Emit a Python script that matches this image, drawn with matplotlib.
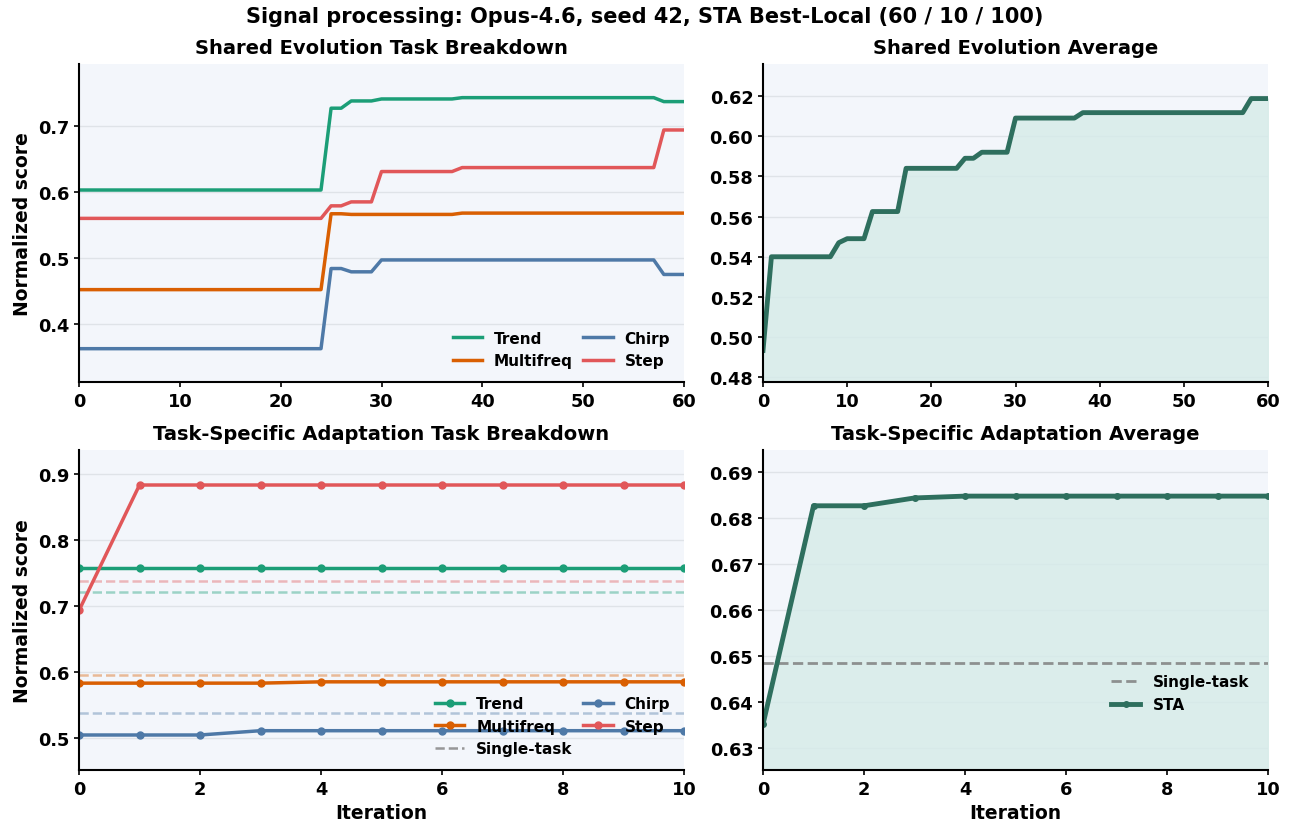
import numpy as np
import matplotlib.pyplot as plt

plt.rcParams['font.family'] = 'DejaVu Sans'
plt.rcParams['font.weight'] = 'bold'
plt.rcParams['axes.labelweight'] = 'bold'
plt.rcParams['axes.titleweight'] = 'bold'

# couleurs
c_trend = '#1b9e77'
c_multi = '#d95f02'
c_chirp = '#4e79a7'
c_step = '#e15759'
c_avg = '#2e6f5e'
bg = '#f3f6fb'

# --- evolution partagee (60 iterations) ---
shared_x = np.arange(61)
trend_shared = [0.603]*25 + [0.727]*2 + [0.738]*3 + [0.741]*8 + [0.743]*20 + [0.737]*3
multi_shared = [0.452]*25 + [0.567]*2 + [0.566]*11 + [0.568]*23
chirp_shared = [0.3625]*25 + [0.484]*2 + [0.479]*3 + [0.497]*28 + [0.475]*3
step_shared = [0.560]*25 + [0.579]*2 + [0.585]*3 + [0.631]*8 + [0.637]*20 + [0.694]*3
avg_shared = ([0.4934] + [0.540]*8 + [0.547] + [0.549]*3 + [0.5625]*4 + [0.584]*7
              + [0.589]*2 + [0.592]*4 + [0.609]*8 + [0.6117]*20 + [0.6187]*3)

# --- adaptation specifique (10 iterations) ---
sta_x = np.arange(11)
trend_sta = [0.758]*11
multi_sta = [0.583]*4 + [0.585]*7
chirp_sta = [0.5045]*3 + [0.511]*8
step_sta = [0.693] + [0.883]*10
avg_sta = [0.6352, 0.6826, 0.6826, 0.6843] + [0.6847]*7

single = {'Trend': 0.721, 'Multifreq': 0.596, 'Chirp': 0.538, 'Step': 0.737}
single_avg = 0.6486

names = ['Trend', 'Multifreq', 'Chirp', 'Step']
colors = [c_trend, c_multi, c_chirp, c_step]

fig = plt.figure(figsize=(12.9, 8.29), dpi=100)
W, H = 1290, 829
def box(x0, y0, x1, y1):
    return [x0/W, 1 - y1/H, (x1-x0)/W, (y1-y0)/H]

ax1 = fig.add_axes(box(79, 65, 684, 383))
ax2 = fig.add_axes(box(763, 65, 1268, 383))
ax3 = fig.add_axes(box(79, 451, 684, 771))
ax4 = fig.add_axes(box(763, 451, 1268, 771))

for ax in (ax1, ax2, ax3, ax4):
    ax.set_facecolor(bg)
    ax.spines['top'].set_visible(False)
    ax.spines['right'].set_visible(False)
    ax.spines['left'].set_linewidth(1.5)
    ax.spines['bottom'].set_linewidth(1.5)
    ax.grid(axis='y', color='#dfe3e8', linewidth=1)
    ax.set_axisbelow(True)
    ax.tick_params(labelsize=12.8, width=1.2)

leg_kw = dict(frameon=False, fontsize=11, columnspacing=0.7, handlelength=1.9)

# haut gauche
for n, c, ys in zip(names, colors, [trend_shared, multi_shared, chirp_shared, step_shared]):
    ax1.plot(shared_x, ys, color=c, lw=2.5, label=n)
ax1.set_xlim(0, 60)
ax1.set_ylim(0.312, 0.794)
ax1.set_yticks([0.4, 0.5, 0.6, 0.7])
ax1.set_ylabel('Normalized score', fontsize=13.5)
ax1.set_title('Shared Evolution Task Breakdown', fontsize=14, pad=8)
ax1.legend(loc='lower right', ncol=2, **leg_kw)

# haut droite
ax2.plot(shared_x, avg_shared, color=c_avg, lw=3.5)
ax2.fill_between(shared_x, avg_shared, 0.4, color='#d5ebe8', alpha=0.8)
ax2.set_xlim(0, 60)
ax2.set_ylim(0.4777, 0.6359)
ax2.set_yticks(np.arange(0.48, 0.621, 0.02))
ax2.set_title('Shared Evolution Average', fontsize=14, pad=8)

# bas gauche
for n, c in zip(names, colors):
    ax3.axhline(single[n], color=c, ls='--', lw=1.8, alpha=0.4)
hands = {}
for n, c, ys in zip(names, colors, [trend_sta, multi_sta, chirp_sta, step_sta]):
    hands[n], = ax3.plot(sta_x, ys, color=c, lw=2.5, marker='o', ms=5, label=n)
st, = ax3.plot([], [], color='gray', ls='--', lw=1.8, alpha=0.8, label='Single-task')
ax3.set_xlim(0, 10)
ax3.set_ylim(0.4515, 0.936)
ax3.set_yticks([0.5, 0.6, 0.7, 0.8, 0.9])
ax3.set_ylabel('Normalized score', fontsize=13.5)
ax3.set_xlabel('Iteration', fontsize=13.5)
ax3.set_title('Task-Specific Adaptation Task Breakdown', fontsize=14, pad=8)
ax3.legend([hands['Trend'], hands['Multifreq'], st, hands['Chirp'], hands['Step']],
           ['Trend', 'Multifreq', 'Single-task', 'Chirp', 'Step'],
           loc='lower right', ncol=2, **leg_kw)

# bas droite
ax4.axhline(single_avg, color='gray', ls='--', lw=2, alpha=0.85, label='Single-task')
ax4.plot(sta_x, avg_sta, color=c_avg, lw=3.5, marker='o', ms=4, label='STA')
ax4.fill_between(sta_x, avg_sta, 0.6, color='#d5ebe8', alpha=0.8)
ax4.set_xlim(0, 10)
ax4.set_ylim(0.6253, 0.6947)
ax4.set_yticks(np.arange(0.63, 0.691, 0.01))
ax4.set_xlabel('Iteration', fontsize=13.5)
ax4.set_title('Task-Specific Adaptation Average', fontsize=14, pad=8)
ax4.legend(loc='center right', bbox_to_anchor=(0.99, 0.24), **leg_kw)

fig.suptitle('Signal processing: Opus-4.6, seed 42, STA Best-Local (60 / 10 / 100)',
             fontsize=15, fontweight='bold', y=0.992)

fig.savefig('out.png', dpi=100)
